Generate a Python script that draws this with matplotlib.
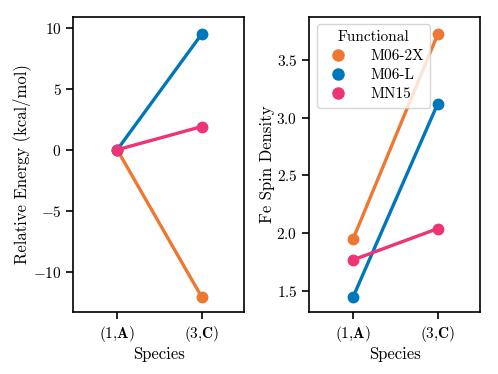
import matplotlib
matplotlib.use("Agg")
import matplotlib.pyplot as plt

plt.rcParams["font.family"] = "serif"
plt.rcParams["font.serif"] = ["cmr10", "DejaVu Serif"]
plt.rcParams["mathtext.fontset"] = "cm"
plt.rcParams["axes.formatter.use_mathtext"] = True
plt.rcParams["axes.unicode_minus"] = True
plt.rcParams["axes.linewidth"] = 1.2

species = [r"(1,$\mathbf{A}$)", r"(3,$\mathbf{C}$)"]
functionals = ["M06-2X", "M06-L", "MN15"]
colors = ["#EE7733", "#0077BB", "#EE3377"]

# relative energy (kcal/mol)
energy_m062x = [0.0, -12.1]
energy_m06l = [0.0, 9.5]
energy_mn15 = [0.0, 1.9]

# Fe spin density
spin_m062x = [1.95, 3.72]
spin_m06l = [1.45, 3.12]
spin_mn15 = [1.77, 2.04]

energies = [energy_m062x, energy_m06l, energy_mn15]
spins = [spin_m062x, spin_m06l, spin_mn15]

fig, (ax1, ax2) = plt.subplots(1, 2, figsize=(4.98, 3.74), dpi=100)
fig.subplots_adjust(left=0.147, right=0.964, top=0.955, bottom=0.166, wspace=0.38)

xs = range(len(species))
for name, c, e, s in zip(functionals, colors, energies, spins):
    ax1.plot(xs, e, color=c, lw=2.4, marker="o", ms=7.5, label=name)
    ax2.plot(xs, s, color=c, lw=2.4, marker="o", ms=7.5, label=name)

for ax in (ax1, ax2):
    ax.set_xticks(list(xs))
    ax.set_xticklabels(species)
    ax.set_xlim(-0.52, 1.5)
    ax.set_xlabel("Species", fontsize=12, labelpad=2)
    ax.tick_params(labelsize=11, direction="out", length=5, width=1.2)

ax1.set_ylim(-13.3, 10.9)
ax1.set_yticks([-10, -5, 0, 5, 10])
ax1.set_ylabel("Relative Energy (kcal/mol)", fontsize=12, labelpad=1)

ax2.set_ylim(1.32, 3.87)
ax2.set_yticks([1.5, 2.0, 2.5, 3.0, 3.5])
ax2.set_ylabel("Fe Spin Density", fontsize=12, labelpad=1)

handles = [plt.Line2D([], [], ls="", marker="o", ms=8, color=c) for c in colors]
ax2.legend(handles, functionals, title="Functional", loc="upper left",
           fontsize=11, title_fontsize=11, borderaxespad=0.5,
           handletextpad=1.1, labelspacing=0.35)

fig.savefig("out.png")
